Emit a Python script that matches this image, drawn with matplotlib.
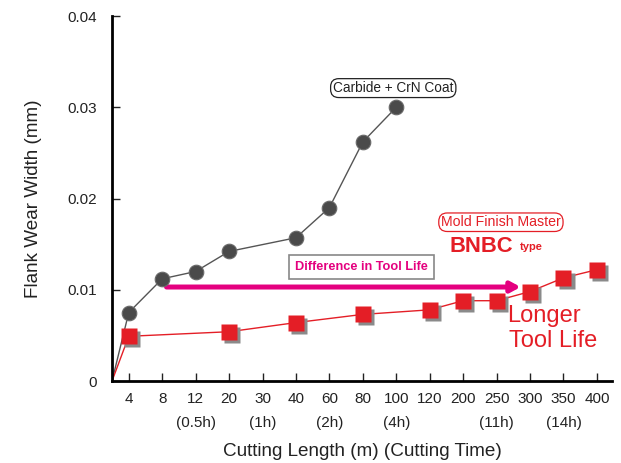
import numpy as np
import matplotlib.pyplot as plt
from matplotlib import font_manager
from matplotlib.transforms import ScaledTranslation

plt.rcParams['font.family'] = ['Liberation Sans', 'DejaVu Sans']

# categorical cutting lengths (m) and the matching cutting time notes
lengths = ['4', '8', '12', '20', '30', '40', '60', '80', '100', '120',
           '200', '250', '300', '350', '400']
times = ['', '', '(0.5h)', '', '(1h)', '', '(2h)', '', '(4h)', '',
         '', '(11h)', '', '(14h)', '']

# Carbide + CrN coat (categories, wear in mm)
carbide_cats = ['4', '8', '12', '20', '40', '60', '80', '100']
carbide_wear = [0.0075, 0.0112, 0.0120, 0.0142, 0.0157, 0.0190, 0.0262, 0.0300]

# Mold Finish Master BNBC type
bnbc_cats = ['4', '20', '40', '80', '120', '200', '250', '300', '350', '400']
bnbc_wear = [0.0049, 0.0054, 0.0064, 0.0073, 0.0078, 0.0088, 0.0088, 0.0098,
             0.0113, 0.0122]

red = '#e41e26'
magenta = '#e4007f'
dark = '#4a4a4a'
ink = '#222222'


def main():
    fig = plt.figure(figsize=(6.21, 4.63), dpi=100)
    ax = fig.add_axes([0.1804, 0.1771, 0.805, 0.7883])

    pos = {c: i for i, c in enumerate(lengths)}
    cx = [-0.5] + [pos[c] for c in carbide_cats]
    cy = [0.0] + carbide_wear
    bx = [-0.5] + [pos[c] for c in bnbc_cats]
    by = [0.0] + bnbc_wear

    # lines
    ax.plot(cx, cy, color='#555555', lw=1.0, zorder=2)
    ax.plot(bx, by, color=red, lw=1.0, zorder=2)

    # shadows of the markers
    shadow = ax.transData + ScaledTranslation(2.2 / 72, -2.2 / 72,
                                              fig.dpi_scale_trans)
    ax.plot(bx[1:], by[1:], 's', ms=11, color='#8a8a8a', mec='none',
            transform=shadow, zorder=3)
    ax.plot(bx[1:], by[1:], 's', ms=11, color=red, mec='none', zorder=4)
    ax.plot(cx[1:], cy[1:], 'o', ms=10.5, color=dark, mec='#6a6a6a',
            mew=0.8, zorder=4)

    # difference arrow
    ax.annotate('', xy=(11.72, 0.0103), xytext=(1.13, 0.0103),
                arrowprops=dict(arrowstyle='-|>,head_length=0.55,head_width=0.3',
                                color=magenta, lw=3.6, shrinkA=0, shrinkB=0),
                zorder=3)
    names = {f.name for f in font_manager.fontManager.ttflist}
    if 'Liberation Sans Narrow' in names:
        diff_font = dict(family='Liberation Sans Narrow', fontsize=11.5)
    else:
        diff_font = dict(fontsize=9.2)
    ax.text(6.96, 0.0125, 'Difference in Tool Life', color=magenta,
            fontweight='bold', ha='center', va='center',
            bbox=dict(boxstyle='square,pad=0.5', fc='white', ec='#888888',
                      lw=1.2), zorder=5, **diff_font)

    # labels
    ax.text(7.91, 0.0321, 'Carbide + CrN Coat', fontsize=9.8, color=ink,
            ha='center', va='center',
            bbox=dict(boxstyle='round,pad=0.18,rounding_size=0.6', fc='white',
                      ec=ink, lw=0.9))
    ax.text(11.13, 0.0174, 'Mold Finish Master', fontsize=10.2, color=red,
            ha='center', va='center',
            bbox=dict(boxstyle='round,pad=0.16,rounding_size=0.6', fc='white',
                      ec=red, lw=0.9))
    ax.text(9.6, 0.01416, 'BNBC', fontsize=15.8, fontweight='bold', color=red,
            ha='left', va='baseline')
    ax.text(11.69, 0.01435, 'type', fontsize=8, fontweight='bold', color=red,
            ha='left', va='baseline')
    ax.text(11.32, 0.00646, 'Longer', fontsize=17, color=red,
            ha='left', va='baseline')
    ax.text(11.36, 0.00372, 'Tool Life', fontsize=17, color=red,
            ha='left', va='baseline')

    # axes styling
    ax.set_xlim(-0.5, 14.45)
    ax.set_ylim(0, 0.04)
    ax.set_yticks([0, 0.01, 0.02, 0.03, 0.04])
    ax.set_yticklabels(['0', '0.01', '0.02', '0.03', '0.04'])
    ax.set_xticks(range(len(lengths)))
    ax.set_xticklabels([f'{l}\n{t}' if t else f'{l}\n'
                        for l, t in zip(lengths, times)], linespacing=1.9)
    ax.tick_params(direction='in', length=6, width=1.0, labelsize=11,
                   colors=ink)
    ax.tick_params(axis='x', pad=8)
    ax.tick_params(axis='y', pad=11)
    for s in ['top', 'right']:
        ax.spines[s].set_visible(False)
    ax.spines['left'].set_linewidth(2)
    ax.spines['bottom'].set_linewidth(2)
    ax.set_ylabel('Flank Wear Width (mm)', fontsize=13.6, color=ink,
                  labelpad=18)
    ax.set_xlabel('Cutting Length (m) (Cutting Time)', fontsize=13.6,
                  color=ink, labelpad=9)

    fig.savefig('out.png', dpi=100)


if __name__ == '__main__':
    main()
